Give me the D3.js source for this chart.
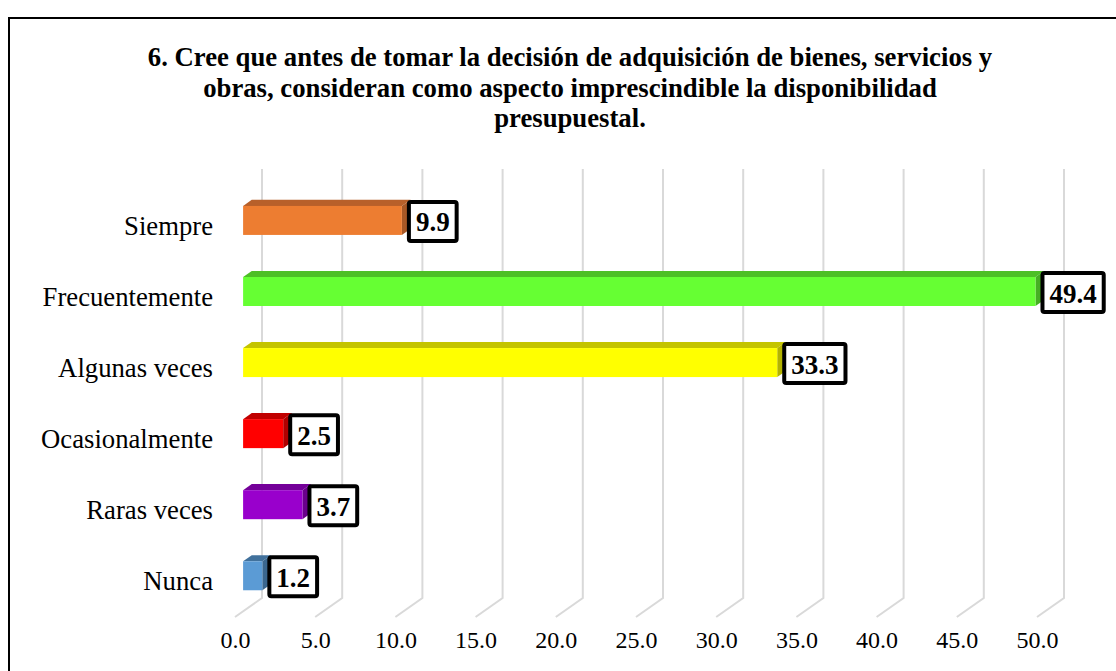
<!DOCTYPE html>
<html>
<head>
<meta charset="utf-8">
<script src="https://cdn.jsdelivr.net/npm/d3@7/dist/d3.min.js"></script>
<style>
  body { margin: 0; background: #fff; }
  text { font-family: "Liberation Serif", "Times New Roman", serif; }
</style>
</head>
<body>
<svg id="chart" width="1116" height="671"></svg>
<script>
// categories, top to bottom
var categories = ["Siempre", "Frecuentemente", "Algunas veces", "Ocasionalmente", "Raras veces", "Nunca"];
var values = [9.9, 49.4, 33.3, 2.5, 3.7, 1.2];
var frontColors = ["#ED7D31", "#66FF33", "#FFFF00", "#FF0000", "#9900CC", "#5B9BD5"];
var topColors = ["#B8602A", "#4DBF26", "#C4C400", "#C00000", "#740099", "#41719C"];
var tickValues = [0, 5, 10, 15, 20, 25, 30, 35, 40, 45, 50];
var titleLines = [
    "6. Cree que antes de tomar la decisión de adquisición de bienes, servicios y",
    "obras, consideran como aspecto imprescindible la disponibilidad",
    "presupuestal."
];

var serif = "'Liberation Serif', 'Times New Roman', serif";
var svg = d3.select("#chart");

// outer frame
svg.append("rect")
    .attr("x", 9).attr("y", 18)
    .attr("width", 1130).attr("height", 700)
    .attr("fill", "none").attr("stroke", "#000").attr("stroke-width", 2);

// title
var title = svg.append("g").selectAll("text").data(titleLines).enter().append("text")
    .attr("x", 570)
    .attr("y", function (d, i) { return 57 + i * 30.5; })
    .attr("text-anchor", "middle")
    .attr("dominant-baseline", "central")
    .attr("font-family", serif)
    .attr("font-size", "21.5px")
    .attr("font-weight", "bold")
    .text(function (d) { return d; });
// fit the first line to the width seen in the picture
var w0 = title.node().getComputedTextLength();
title.attr("font-size", (21.5 * 845 / w0) + "px");

// scales (front plane)
var x = d3.scaleLinear().domain([0, 50]).range([235, 1037]);
var y = d3.scaleBand().domain(categories).range([190.6, 617]).padding(0);

// 3D depth of the plot box
var depthX = 27, depthY = -19;
var floorY = y.range()[1];
var wallTop = 169;

// gridlines: back wall vertical + floor slant
var grid = svg.append("g").attr("stroke", "#D9D9D9").attr("stroke-width", 2).attr("fill", "none");
grid.selectAll("path").data(tickValues).enter().append("path")
    .attr("d", function (d) {
        var bx = x(d) + depthX;
        return "M" + bx + "," + wallTop + "L" + bx + "," + (floorY + depthY) + "L" + x(d) + "," + floorY;
    });

// x axis tick labels
var xAxis = d3.axisBottom(x).tickValues(tickValues).tickSize(0).tickPadding(0)
    .tickFormat(d3.format(".1f"));
var gx = svg.append("g").attr("transform", "translate(0,631)").call(xAxis);
gx.attr("font-family", serif).attr("font-size", 24);
gx.select(".domain").remove();
gx.selectAll("text").attr("fill", "#000");

// y axis category labels
var yAxis = d3.axisLeft(y).tickSize(0).tickPadding(0);
var gy = svg.append("g").attr("transform", "translate(213,0)").call(yAxis);
gy.attr("font-family", serif).attr("font-size", 26.7);
gy.select(".domain").remove();
gy.selectAll("text").attr("fill", "#000");

// bars (front face at 0.3 depth, back at 0.62)
var barH = 29;
var f0 = 0.3, f1 = 0.62;
var bars = svg.append("g");
categories.forEach(function (c, i) {
    var v = values[i];
    var ox = depthX * f0, oy = depthY * f0;
    var dx = depthX * (f1 - f0), dy = depthY * (f1 - f0);
    var x0 = x(0) + ox, x1 = x(v) + ox;
    var yc = y(c) + y.bandwidth() / 2 + oy;
    var y0 = yc - barH / 2, y1 = yc + barH / 2;
    var g = bars.append("g");
    // top face
    g.append("path")
        .attr("d", "M" + x0 + "," + y0 + "L" + (x0 + dx) + "," + (y0 + dy) +
            "L" + (x1 + dx) + "," + (y0 + dy) + "L" + x1 + "," + y0 + "Z")
        .attr("fill", topColors[i]);
    // side face
    g.append("path")
        .attr("d", "M" + x1 + "," + y0 + "L" + (x1 + dx) + "," + (y0 + dy) +
            "L" + (x1 + dx) + "," + (y1 + dy) + "L" + x1 + "," + y1 + "Z")
        .attr("fill", d3.color(topColors[i]).darker(0.25));
    // front face
    g.append("rect")
        .attr("x", x0).attr("y", y0)
        .attr("width", x1 - x0).attr("height", barH)
        .attr("fill", frontColors[i]);

    // data label box
    var label = g.append("text")
        .attr("font-family", serif)
        .attr("font-size", "27px").attr("font-weight", "bold")
        .attr("dominant-baseline", "central")
        .attr("text-anchor", "middle")
        .text(v.toFixed(1));
    var tw = label.node().getComputedTextLength();
    var bw = tw + 14, bh = 39;
    var bx = x(v) + ox + 7;
    var by = yc + 1 - bh / 2;
    g.insert("rect", "text")
        .attr("x", bx).attr("y", by)
        .attr("width", bw).attr("height", bh)
        .attr("rx", 2)
        .attr("fill", "#fff").attr("stroke", "#000").attr("stroke-width", 4);
    label.attr("x", bx + bw / 2).attr("y", by + bh / 2 + 1);
});
</script>
</body>
</html>
